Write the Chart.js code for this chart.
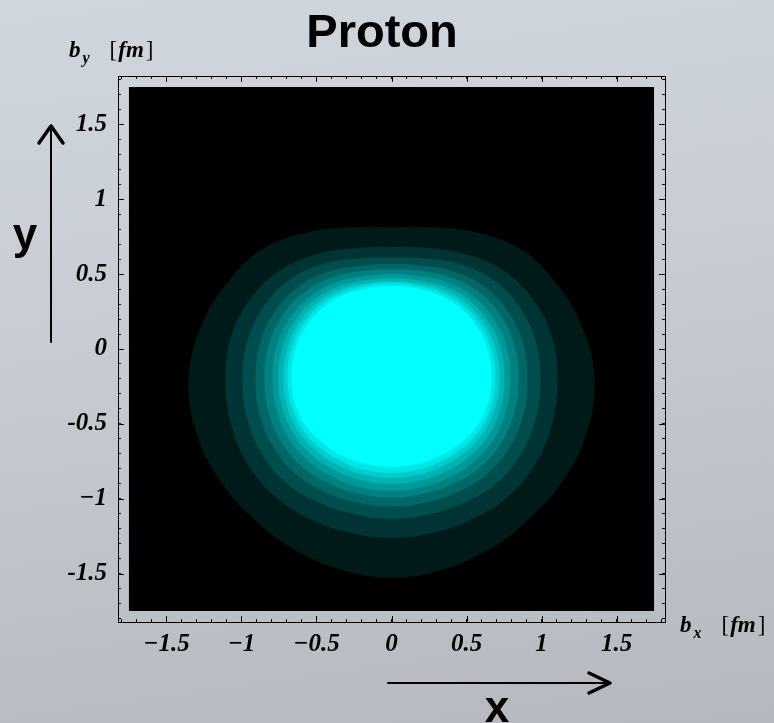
<!DOCTYPE html>
<html>
<head>
<meta charset="utf-8">
<title>Proton</title>
<script src="https://cdn.jsdelivr.net/npm/chart.js@4.4.1/dist/chart.umd.min.js"></script>
<style>
    html, body {
        margin: 0;
        padding: 0;
        overflow: hidden;
    }
    body {
        width: 774px;
        height: 723px;
        background: linear-gradient(172deg, #d0d6dd 0%, #c8cdd4 40%, #bcc0c7 75%, #b5b8bf 100%);
    }
    #chart {
        display: block;
    }
</style>
</head>
<body>
<canvas id="chart" width="774" height="723"></canvas>
<script>
// Axis ticks (fm)
const xTickValues = [-1.5, -1, -0.5, 0, 0.5, 1, 1.5];
const xTickLabels = ['\u22121.5', '\u22121', '\u22120.5', '0', '0.5', '1', '1.5'];
const yTickValues = [-1.5, -1, -0.5, 0, 0.5, 1, 1.5];
const yTickLabels = ['-1.5', '\u22121', '-0.5', '0', '0.5', '1', '1.5'];
const axisLimit = 1.823;
const plotRange = [-1.75, 1.75];

// Contour boundaries: radius (fm) at each angle (deg) around (0, contourCenterY),
// right half only, the density is symmetric in b_x
const contourCenterY = -0.2;
const contourAngles = [90, 75, 60, 45, 30, 15, 0, -15, -30, -45, -60, -75, -90];
const level1 = [1.013, 1.049, 1.13, 1.223, 1.27, 1.318, 1.353, 1.35, 1.33, 1.31, 1.31, 1.318, 1.327];
const level2 = [0.88, 0.905, 0.965, 1.035, 1.08, 1.105, 1.107, 1.111, 1.114, 1.105, 1.08, 1.063, 1.06];
const level3 = [0.813, 0.833, 0.89, 0.946, 0.979, 0.993, 0.993, 0.997, 0.999, 0.987, 0.957, 0.937, 0.933];
const level4 = [0.767, 0.782, 0.828, 0.872, 0.898, 0.908, 0.907, 0.91, 0.91, 0.899, 0.873, 0.856, 0.853];
const level5 = [0.733, 0.746, 0.785, 0.821, 0.841, 0.849, 0.847, 0.849, 0.847, 0.836, 0.811, 0.796, 0.793];
const level6 = [0.70, 0.71, 0.744, 0.773, 0.79, 0.796, 0.793, 0.793, 0.791, 0.779, 0.761, 0.75, 0.747];
const level7 = [0.673, 0.682, 0.713, 0.739, 0.752, 0.756, 0.753, 0.753, 0.748, 0.733, 0.715, 0.703, 0.70];
const level8 = [0.653, 0.66, 0.687, 0.709, 0.72, 0.723, 0.72, 0.719, 0.711, 0.693, 0.675, 0.664, 0.66];
const level9 = [0.64, 0.646, 0.667, 0.685, 0.694, 0.696, 0.693, 0.69, 0.681, 0.66, 0.642, 0.631, 0.627];
const level10 = [0.62, 0.625, 0.645, 0.66, 0.668, 0.67, 0.667, 0.663, 0.65, 0.625, 0.605, 0.592, 0.587];

const levelColors = ['#001a1a', '#003333', '#004d4d', '#006666', '#008080',
    '#009999', '#00b3b3', '#00cccc', '#00e6e6', '#00ffff'];

function polar(r, deg, side) {
    const t = deg * Math.PI / 180;
    return { x: side * r * Math.cos(t), y: contourCenterY + r * Math.sin(t) };
}

// Closed outline: right half top->bottom, left half bottom->top,
// then run on past the top again so the spline has no seam there
function contourPoints(radii) {
    const n = contourAngles.length;
    const pts = [];
    for (let i = 0; i < n; i++) pts.push(polar(radii[i], contourAngles[i], 1));
    for (let i = n - 2; i >= 1; i--) pts.push(polar(radii[i], contourAngles[i], -1));
    pts.push(polar(radii[0], contourAngles[0], 1));
    pts.push(polar(radii[1], contourAngles[1], 1));
    pts.push(polar(radii[2], contourAngles[2], 1));
    return pts;
}

const levels = [level1, level2, level3, level4, level5, level6, level7, level8, level9, level10];

// Innermost first so it is painted on top
const datasets = [];
for (let k = levels.length - 1; k >= 0; k--) {
    datasets.push({
        data: contourPoints(levels[k]),
        showLine: true,
        fill: 'shape',
        backgroundColor: levelColors[k],
        borderWidth: 0,
        pointRadius: 0,
        tension: 0.4
    });
}
// Black plot region underneath everything
datasets.push({
    data: [
        { x: plotRange[0], y: plotRange[1] },
        { x: plotRange[1], y: plotRange[1] },
        { x: plotRange[1], y: plotRange[0] },
        { x: plotRange[0], y: plotRange[0] },
        { x: plotRange[0], y: plotRange[1] }
    ],
    showLine: true,
    fill: 'shape',
    backgroundColor: '#000000',
    borderWidth: 0,
    pointRadius: 0,
    tension: 0
});

const tickFont = { family: 'Liberation Serif', size: 25, style: 'italic', weight: 'bold' };

function labelFor(values, labels) {
    return (value) => {
        const i = values.findIndex(v => Math.abs(v - value) < 1e-6);
        return i >= 0 ? labels[i] : '';
    };
}

function frameAxis(position, size, showLabels, values, labels) {
    const horizontal = position === 'top' || position === 'bottom';
    return {
        type: 'linear',
        position: position,
        min: -axisLimit,
        max: axisLimit,
        border: { display: true, color: '#000', width: 1 },
        grid: {
            drawOnChartArea: false,
            drawTicks: true,
            tickLength: -3,
            tickColor: '#000',
            tickWidth: 1
        },
        ticks: {
            display: showLabels,
            stepSize: 0.1,
            includeBounds: false,
            autoSkip: false,
            maxRotation: 0,
            padding: horizontal ? 11 : 14,
            color: '#000',
            font: tickFont,
            callback: values ? labelFor(values, labels) : () => ''
        },
        afterFit: (scale) => {
            if (horizontal) scale.height = size;
            else scale.width = size;
        }
    };
}

// Longer tick marks every 0.5 fm on all four sides
const majorTicks = {
    id: 'majorTicks',
    afterDraw(chart) {
        const ctx = chart.ctx;
        const area = chart.chartArea;
        const xs = chart.scales.x;
        const ys = chart.scales.y;
        ctx.save();
        ctx.strokeStyle = '#000';
        ctx.lineWidth = 1;
        ctx.beginPath();
        xTickValues.forEach(v => {
            const px = Math.round(xs.getPixelForValue(v)) + 0.5;
            ctx.moveTo(px, area.bottom); ctx.lineTo(px, area.bottom - 6);
            ctx.moveTo(px, area.top); ctx.lineTo(px, area.top + 6);
        });
        yTickValues.forEach(v => {
            const py = Math.round(ys.getPixelForValue(v)) + 0.5;
            ctx.moveTo(area.left, py); ctx.lineTo(area.left + 6, py);
            ctx.moveTo(area.right, py); ctx.lineTo(area.right - 6, py);
        });
        ctx.stroke();
        ctx.restore();
    }
};

// "b_s  [fm]" unit label, pieces placed one after another
function unitLabel(ctx, sub, x, y) {
    const main = 'italic bold 23px "Liberation Serif"';
    const plain = '23px "Liberation Serif"';
    ctx.font = main;
    ctx.fillText('b', x, y);
    let cx = x + ctx.measureText('b').width + 2;
    ctx.font = 'italic bold 16px "Liberation Serif"';
    ctx.fillText(sub, cx, y + 6);
    cx += ctx.measureText(sub).width + 20;
    ctx.font = plain;
    ctx.fillText('[', cx, y);
    cx += ctx.measureText('[').width + 1;
    ctx.font = main;
    ctx.fillText('fm', cx, y);
    cx += ctx.measureText('fm').width + 2;
    ctx.font = plain;
    ctx.fillText(']', cx, y);
}

// Title, axis units and the direction arrows
const annotations = {
    id: 'annotations',
    afterDraw(chart) {
        const ctx = chart.ctx;
        ctx.save();
        ctx.fillStyle = '#000';
        ctx.textBaseline = 'alphabetic';

        ctx.font = 'bold 47px "Liberation Sans"';
        ctx.textAlign = 'center';
        ctx.fillText('Proton', 382, 47);

        ctx.textAlign = 'left';
        unitLabel(ctx, 'y', 69, 57);
        unitLabel(ctx, 'x', 680, 632);

        // big x / y letters
        ctx.font = 'bold 44px "Liberation Sans"';
        ctx.textAlign = 'center';
        ctx.fillText('y', 25, 249);
        ctx.fillText('x', 497, 722);

        // arrows
        ctx.strokeStyle = '#000';
        ctx.lineCap = 'round';
        ctx.lineJoin = 'round';
        ctx.lineWidth = 2;
        ctx.beginPath();
        ctx.moveTo(51, 342); ctx.lineTo(51, 127);
        ctx.moveTo(388, 683); ctx.lineTo(609, 683);
        ctx.stroke();
        ctx.lineWidth = 3.5;
        ctx.beginPath();
        ctx.moveTo(39, 143); ctx.lineTo(51, 126); ctx.lineTo(63, 143);
        ctx.moveTo(589, 673); ctx.lineTo(610, 683); ctx.lineTo(589, 693);
        ctx.stroke();
        ctx.restore();
    }
};

new Chart(document.getElementById('chart'), {
    type: 'scatter',
    data: { datasets: datasets },
    options: {
        responsive: false,
        animation: false,
        layout: { padding: 0 },
        plugins: {
            legend: { display: false },
            tooltip: { enabled: false }
        },
        scales: {
            x: frameAxis('bottom', 101, true, xTickValues, xTickLabels),
            x2: frameAxis('top', 76, false),
            y: frameAxis('left', 118, true, yTickValues, yTickLabels),
            y2: frameAxis('right', 109, false)
        }
    },
    plugins: [majorTicks, annotations]
});
</script>
</body>
</html>
